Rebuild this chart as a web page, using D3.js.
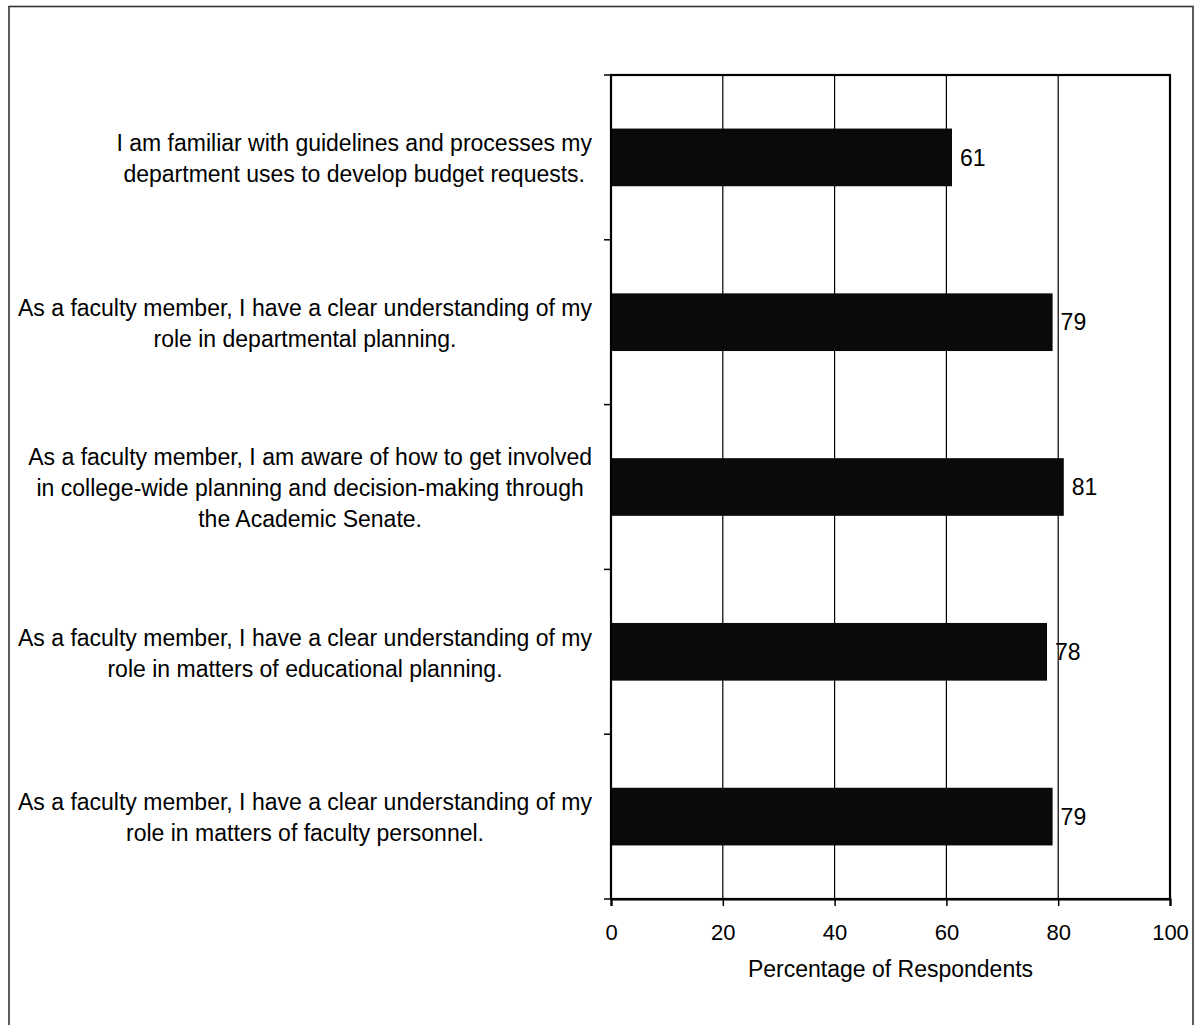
<!DOCTYPE html>
<html>
<head>
<meta charset="utf-8">
<script src="https://cdn.jsdelivr.net/npm/d3@7"></script>
<style>
  html, body { margin: 0; padding: 0; background: #fff; }
  svg { display: block; }
  text { font-family: "Liberation Sans", Arial, sans-serif; fill: #000; }
</style>
</head>
<body>
<div id="chart"></div>
<script>
// ---- Data ----
const categories = [
  ["I am familiar with guidelines and processes my", "department uses to develop budget requests."],
  ["As a faculty member, I have a clear understanding of my", "role in departmental planning."],
  ["As a faculty member, I am aware of how to get involved", "in college-wide planning and decision-making through", "the Academic Senate."],
  ["As a faculty member, I have a clear understanding of my", "role in matters of educational planning."],
  ["As a faculty member, I have a clear understanding of my", "role in matters of faculty personnel."]
];
const values = [61, 79, 81, 78, 79];
const xTicks = [0, 20, 40, 60, 80, 100];
const xTitle = "Percentage of Respondents";

// ---- Layout ----
const W = 1196, H = 1025;
const plot = { left: 611, right: 1170, top: 75, bottom: 899 };
const fontSize = 23;

const svg = d3.select("#chart").append("svg")
  .attr("width", W).attr("height", H);

svg.append("rect").attr("width", W).attr("height", H).attr("fill", "#fff");

// outer chart border
svg.append("rect")
  .attr("x", 9).attr("y", 6.5)
  .attr("width", 1184).attr("height", H + 20)
  .attr("fill", "none").attr("stroke", "#333").attr("stroke-width", 1.6);

const x = d3.scaleLinear().domain([0, 100]).range([plot.left, plot.right]);
const idx = categories.map((d, i) => i);
const y = d3.scaleBand().domain(idx).range([plot.top, plot.bottom])
  .paddingInner(0.65).paddingOuter(0.325);

// gridlines
svg.append("g").selectAll("line")
  .data(xTicks.filter(t => t > 0 && t < 100))
  .join("line")
  .attr("x1", d => x(d)).attr("x2", d => x(d))
  .attr("y1", plot.top).attr("y2", plot.bottom)
  .attr("stroke", "#000").attr("stroke-width", 1.2);

// bars
svg.append("g").selectAll("rect")
  .data(values)
  .join("rect")
  .attr("x", x(0))
  .attr("y", (d, i) => y(i))
  .attr("width", d => x(d) - x(0))
  .attr("height", y.bandwidth())
  .attr("fill", "#0a0a0a");

// plot border
svg.append("rect")
  .attr("x", plot.left).attr("y", plot.top)
  .attr("width", plot.right - plot.left).attr("height", plot.bottom - plot.top)
  .attr("fill", "none").attr("stroke", "#000").attr("stroke-width", 2.2);

// x axis
const xAxis = d3.axisBottom(x).tickValues(xTicks).tickSize(7).tickPadding(18)
  .tickFormat(d3.format("d"));
const gx = svg.append("g").attr("transform", `translate(0,${plot.bottom})`).call(xAxis);
gx.select(".domain").attr("stroke", "#000").attr("stroke-width", 2.2);
gx.selectAll(".tick line").attr("stroke", "#000").attr("stroke-width", 1.5);
gx.selectAll(".tick text")
  .style("font-family", '"Liberation Sans", Arial, sans-serif')
  .style("font-size", "22px").attr("fill", "#000");

// category boundary ticks on the y axis
const step = y.step();
const bounds = d3.range(categories.length + 1).map(i => plot.top + i * step);
svg.append("g").selectAll("line")
  .data(bounds)
  .join("line")
  .attr("x1", plot.left - 7).attr("x2", plot.left)
  .attr("y1", d => d).attr("y2", d => d)
  .attr("stroke", "#000").attr("stroke-width", 1.5);

// value labels
svg.append("g").selectAll("text")
  .data(values)
  .join("text")
  .attr("x", d => x(d) + 8)
  .attr("y", (d, i) => y(i) + y.bandwidth() / 2)
  .attr("dy", "0.36em")
  .style("font-size", fontSize + "px")
  .text(d => d);

// category labels (multi-line, centred in a box right-aligned to the axis)
const labelRight = 592;
const lineH = 31;
const lg = svg.append("g");
categories.forEach((lines, i) => {
  const g = lg.append("g");
  const cy = y(i) + y.bandwidth() / 2 + 1;
  const n = lines.length;
  const texts = lines.map((ln, k) => g.append("text")
    .attr("y", cy + (k - (n - 1) / 2) * lineH)
    .attr("dy", "0.36em")
    .attr("text-anchor", "middle")
    .style("font-size", fontSize + "px")
    .text(ln));
  const maxW = d3.max(texts, t => t.node().getComputedTextLength());
  texts.forEach(t => t.attr("x", labelRight - maxW / 2));
});

// x axis title
svg.append("text")
  .attr("x", (plot.left + plot.right) / 2)
  .attr("y", 969)
  .attr("dy", "0.36em")
  .attr("text-anchor", "middle")
  .style("font-size", fontSize + "px")
  .text(xTitle);
</script>
</body>
</html>
